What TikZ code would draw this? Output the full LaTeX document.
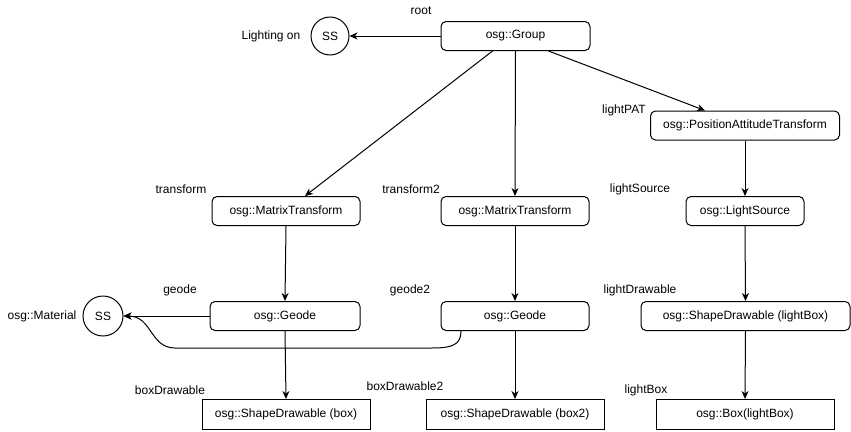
\documentclass[tikz,border=0pt]{standalone}
\usepackage{fontspec}
\setmainfont{Liberation Sans}
\usetikzlibrary{arrows.meta}
\begin{document}
\begin{tikzpicture}[x=1pt,y=-1pt,
  every node/.style={font=\fontsize{12}{14}\selectfont, inner sep=0pt},
  rbox/.style={draw, line width=1pt, rounded corners=5pt, minimum height=29pt, align=center},
  sbox/.style={draw, line width=1pt, minimum height=30pt, align=center},
  ssc/.style={draw, line width=1pt, circle, minimum size=38pt},
  lbl/.style={},
  conn/.style={line width=1pt, -{Stealth[length=8pt,width=7pt,inset=2.5pt]}}
]
\useasboundingbox (0,0) rectangle (851,431);

% nodes
\node[rbox, minimum width=149pt] (grp) at (515.5,36) {osg::Group};
\node[ssc] (ss1) at (330,36) {SS};
\node[rbox, minimum width=189pt] (pat) at (745,125.5) {osg::PositionAttitudeTransform};
\node[rbox, minimum width=148pt] (mt1) at (286,211) {osg::MatrixTransform};
\node[rbox, minimum width=148pt] (mt2) at (515,211) {osg::MatrixTransform};
\node[rbox, minimum width=118pt] (ls) at (745,211) {osg::LightSource};
\node[rbox, minimum width=150pt] (geo1) at (285,316) {osg::Geode};
\node[rbox, minimum width=148pt] (geo2) at (515,316) {osg::Geode};
\node[rbox, minimum width=209pt] (ld) at (745.5,316) {osg::ShapeDrawable (lightBox)};
\node[ssc, minimum size=40pt] (ss2) at (103,316) {SS};
\node[sbox, minimum width=168pt] (bx1) at (286,414.5) {osg::ShapeDrawable (box)};
\node[sbox, minimum width=178pt] (bx2) at (515,414.5) {osg::ShapeDrawable (box2)};
\node[sbox, minimum width=178pt] (bx3) at (745,414.5) {osg::Box(lightBox)};

% labels
\node[lbl] (lroot) at (421,11) {root};
\node[lbl] (llight) at (271,36) {Lighting on};
\node[lbl] (lpat) at (624,110) {lightPAT};
\node[lbl] (ltr) at (181,189) {transform};
\node[lbl] (ltr2) at (411,189) {transform2};
\node[lbl] (lls) at (640,189) {lightSource};
\node[lbl] (lgeo) at (180,290) {geode};
\node[lbl] (lgeo2) at (410,290) {geode2};
\node[lbl] (lld) at (640,290) {lightDrawable};
\node[lbl] (lmat) at (42,316) {osg::Material};
\node[lbl] (lbx) at (170,390) {boxDrawable};
\node[lbl] (lbx2) at (405,386) {boxDrawable2};
\node[lbl] (lbx3) at (646,390) {lightBox};

% connectors
\draw[conn] (grp.west) -- (ss1.east);
\draw[conn] ([xshift=-23pt]grp.south) -- ([xshift=19pt]mt1.north);
\draw[conn] (grp.south) -- (mt2.north);
\draw[conn] ([xshift=33pt]grp.south) -- ([xshift=-40pt]pat.north);
\draw[conn] (pat.south) -- (ls.north);
\draw[conn] (mt1.south) -- (geo1.north);
\draw[conn] (mt2.south) -- (geo2.north);
\draw[conn] (ls.south) -- (ld.north);
\draw[conn] (geo1.west) -- (ss2.east);
\draw[conn] (geo1.south) -- (bx1.north);
\draw[conn] (geo2.south) -- (bx2.north);
\draw[conn] (ld.south) -- (bx3.north);
\coordinate (w1) at (432,348);
\coordinate (w2) at (175,348);
\draw[conn] ([xshift=-54pt]geo2.south) .. controls (461,345) and (452,348) .. (w1) -- (w2)
  .. controls (150,348) and (152,316) .. (ss2.east);
\end{tikzpicture}
\end{document}
